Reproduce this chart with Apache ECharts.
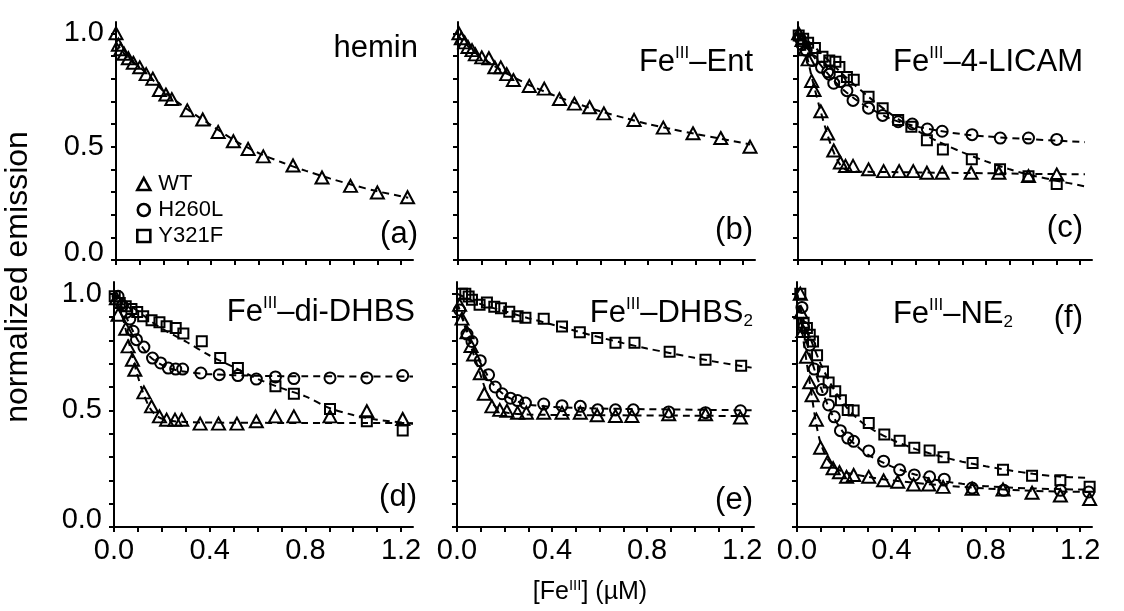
<!DOCTYPE html>
<html>
<head>
<meta charset="utf-8">
<script src="https://cdn.jsdelivr.net/npm/echarts@6/dist/echarts.min.js"></script>
<style>
    html, body { margin: 0; background: #fff; }
    #chart { width: 1124px; height: 611px; }
</style>
</head>
<body>
<div id="chart"></div>
<script>
// tick positions / labels
const xTicks = [0, 0.1, 0.2, 0.3, 0.4, 0.5, 0.6, 0.7, 0.8, 0.9, 1.0, 1.1, 1.2];
const xTickLabels = [0, 0.4, 0.8, 1.2];
const yTicks = [0, 0.1, 0.2, 0.3, 0.4, 0.5, 0.6, 0.7, 0.8, 0.9, 1.0];
const yTickLabels = [0, 0.5, 1.0];

// (a) hemin
const heminWT = [[0, 1.0], [0.01, 0.95], [0.02, 0.93], [0.034, 0.91], [0.052, 0.89], [0.073, 0.87], [0.10, 0.85], [0.127, 0.82], [0.155, 0.80], [0.183, 0.75], [0.21, 0.73], [0.235, 0.71], [0.30, 0.66], [0.365, 0.62], [0.43, 0.565], [0.494, 0.524], [0.556, 0.49], [0.62, 0.457], [0.745, 0.417], [0.867, 0.364], [0.987, 0.327], [1.10, 0.298], [1.227, 0.277]];
const heminWTFit = [[0, 0.96], [0.05, 0.89], [0.1, 0.85], [0.15, 0.80], [0.2, 0.745], [0.3, 0.665], [0.4, 0.595], [0.5, 0.527], [0.6, 0.472], [0.7, 0.43], [0.8, 0.393], [0.9, 0.36], [1.0, 0.33], [1.1, 0.303], [1.23, 0.275]];

// (b) Fe-Ent
const entWT = [[0.004, 1.0], [0.014, 0.978], [0.028, 0.96], [0.042, 0.94], [0.059, 0.926], [0.073, 0.907], [0.10, 0.894], [0.13, 0.89], [0.155, 0.85], [0.18, 0.85], [0.205, 0.82], [0.233, 0.794], [0.30, 0.768], [0.363, 0.756], [0.427, 0.71], [0.49, 0.69], [0.554, 0.674], [0.614, 0.647], [0.741, 0.618], [0.864, 0.584], [0.989, 0.559], [1.106, 0.538], [1.229, 0.50]];
const entWTFit = [[0, 0.99], [0.05, 0.935], [0.1, 0.893], [0.15, 0.858], [0.2, 0.826], [0.3, 0.772], [0.4, 0.728], [0.5, 0.69], [0.6, 0.656], [0.7, 0.627], [0.8, 0.6], [0.9, 0.577], [1.0, 0.556], [1.1, 0.536], [1.23, 0.51]];

// (c) Fe-4-LICAM
const licamWT = [[0.003, 1.0], [0.017, 0.97], [0.03, 0.93], [0.043, 0.885], [0.058, 0.79], [0.068, 0.75], [0.097, 0.656], [0.126, 0.558], [0.152, 0.483], [0.18, 0.43], [0.202, 0.415], [0.234, 0.415], [0.30, 0.40], [0.364, 0.392], [0.43, 0.392], [0.49, 0.392], [0.548, 0.385], [0.613, 0.385], [0.736, 0.385], [0.854, 0.385], [0.98, 0.37], [1.10, 0.377]];
const licamH260L = [[0.01, 0.976], [0.017, 0.95], [0.035, 0.925], [0.06, 0.88], [0.1, 0.85], [0.126, 0.83], [0.133, 0.82], [0.152, 0.78], [0.18, 0.787], [0.208, 0.747], [0.234, 0.704], [0.30, 0.67], [0.36, 0.638], [0.426, 0.61], [0.486, 0.6], [0.55, 0.578], [0.613, 0.568], [0.74, 0.553], [0.86, 0.538], [0.98, 0.538], [1.10, 0.532]];
const licamY321F = [[0.003, 0.99], [0.022, 0.976], [0.043, 0.958], [0.072, 0.935], [0.104, 0.897], [0.133, 0.88], [0.159, 0.875], [0.176, 0.852], [0.208, 0.807], [0.237, 0.795], [0.30, 0.72], [0.36, 0.67], [0.426, 0.618], [0.482, 0.588], [0.548, 0.528], [0.616, 0.487], [0.739, 0.445], [0.859, 0.40], [0.98, 0.37], [1.10, 0.335]];
const licamWTFit = [[0, 1.0], [0.03, 0.93], [0.06, 0.80], [0.09, 0.68], [0.12, 0.57], [0.15, 0.48], [0.18, 0.42], [0.21, 0.395], [0.25, 0.39], [0.4, 0.388], [0.6, 0.385], [0.8, 0.383], [1.0, 0.38], [1.22, 0.378]];
const licamH260LFit = [[0, 1.0], [0.05, 0.92], [0.1, 0.855], [0.15, 0.795], [0.2, 0.745], [0.25, 0.705], [0.3, 0.672], [0.4, 0.62], [0.5, 0.59], [0.6, 0.57], [0.7, 0.555], [0.8, 0.545], [1.0, 0.532], [1.22, 0.52]];
const licamY321FFit = [[0, 1.0], [0.05, 0.96], [0.1, 0.91], [0.15, 0.86], [0.2, 0.81], [0.3, 0.72], [0.4, 0.64], [0.5, 0.575], [0.6, 0.52], [0.7, 0.475], [0.8, 0.435], [0.9, 0.40], [1.0, 0.372], [1.1, 0.35], [1.22, 0.325]];

// (d) Fe-di-DHBS
const diDhbsWT = [[0.01, 0.98], [0.017, 0.91], [0.049, 0.85], [0.059, 0.774], [0.077, 0.717], [0.087, 0.674], [0.125, 0.577], [0.157, 0.517], [0.19, 0.474], [0.22, 0.46], [0.255, 0.46], [0.283, 0.46], [0.36, 0.443], [0.437, 0.443], [0.514, 0.443], [0.595, 0.453], [0.675, 0.474], [0.752, 0.474], [0.903, 0.474], [1.057, 0.496], [1.207, 0.463]];
const diDhbsH260L = [[0.017, 0.989], [0.035, 0.949], [0.052, 0.92], [0.066, 0.891], [0.08, 0.839], [0.094, 0.803], [0.125, 0.771], [0.161, 0.724], [0.195, 0.703], [0.227, 0.681], [0.258, 0.677], [0.287, 0.677], [0.363, 0.66], [0.44, 0.653], [0.518, 0.649], [0.595, 0.634], [0.675, 0.643], [0.752, 0.636], [0.903, 0.639], [1.057, 0.639], [1.207, 0.649]];
const diDhbsY321F = [[0.003, 0.989], [0.024, 0.96], [0.049, 0.946], [0.073, 0.934], [0.097, 0.921], [0.122, 0.903], [0.157, 0.886], [0.19, 0.877], [0.22, 0.86], [0.258, 0.853], [0.29, 0.829], [0.367, 0.796], [0.444, 0.724], [0.518, 0.681], [0.675, 0.603], [0.752, 0.571], [0.903, 0.506], [1.057, 0.453], [1.207, 0.414]];
const diDhbsWTFit = [[0, 1.0], [0.03, 0.92], [0.06, 0.80], [0.09, 0.68], [0.12, 0.58], [0.15, 0.51], [0.18, 0.475], [0.22, 0.458], [0.3, 0.45], [0.5, 0.447], [0.8, 0.446], [1.0, 0.446], [1.25, 0.445]];
const diDhbsH260LFit = [[0, 1.0], [0.03, 0.95], [0.06, 0.88], [0.1, 0.80], [0.15, 0.73], [0.2, 0.695], [0.25, 0.675], [0.3, 0.665], [0.4, 0.655], [0.6, 0.648], [0.8, 0.646], [1.25, 0.645]];
const diDhbsY321FFit = [[0, 1.0], [0.05, 0.96], [0.1, 0.925], [0.15, 0.885], [0.2, 0.85], [0.3, 0.795], [0.4, 0.735], [0.5, 0.685], [0.6, 0.635], [0.7, 0.595], [0.8, 0.56], [0.9, 0.51], [1.0, 0.48], [1.1, 0.46], [1.25, 0.443]];

// (e) Fe-DHBS2
const dhbs2WT = [[0.011, 0.952], [0.021, 0.893], [0.042, 0.835], [0.059, 0.776], [0.07, 0.739], [0.098, 0.659], [0.115, 0.571], [0.147, 0.517], [0.18, 0.502], [0.21, 0.498], [0.255, 0.49], [0.292, 0.49], [0.365, 0.49], [0.442, 0.49], [0.519, 0.49], [0.59, 0.479], [0.667, 0.476], [0.736, 0.476], [0.891, 0.483], [1.046, 0.483], [1.193, 0.469]];
const dhbs2H260L = [[0.011, 0.93], [0.042, 0.827], [0.063, 0.795], [0.098, 0.713], [0.133, 0.652], [0.161, 0.60], [0.19, 0.571], [0.225, 0.552], [0.255, 0.542], [0.288, 0.531], [0.365, 0.527], [0.442, 0.52], [0.519, 0.517], [0.592, 0.502], [0.667, 0.502], [0.742, 0.502], [0.891, 0.493], [1.046, 0.49], [1.193, 0.498]];
const dhbs2Y321F = [[0.021, 1.0], [0.035, 1.0], [0.049, 0.988], [0.063, 0.974], [0.095, 0.952], [0.126, 0.962], [0.157, 0.944], [0.185, 0.937], [0.22, 0.922], [0.255, 0.903], [0.288, 0.897], [0.365, 0.893], [0.442, 0.859], [0.517, 0.835], [0.59, 0.81], [0.667, 0.79], [0.747, 0.79], [0.895, 0.751], [1.046, 0.717], [1.196, 0.691]];
const dhbs2WTFit = [[0, 0.96], [0.03, 0.87], [0.06, 0.77], [0.09, 0.68], [0.12, 0.59], [0.15, 0.53], [0.18, 0.50], [0.22, 0.488], [0.3, 0.482], [0.6, 0.479], [1.0, 0.477], [1.24, 0.475]];
const dhbs2H260LFit = [[0, 0.96], [0.03, 0.88], [0.06, 0.79], [0.09, 0.72], [0.12, 0.665], [0.15, 0.615], [0.2, 0.565], [0.25, 0.54], [0.3, 0.525], [0.4, 0.515], [0.6, 0.508], [0.8, 0.505], [1.24, 0.50]];
const dhbs2Y321FFit = [[0, 1.0], [0.1, 0.955], [0.2, 0.925], [0.3, 0.895], [0.4, 0.868], [0.5, 0.84], [0.6, 0.813], [0.7, 0.788], [0.8, 0.765], [0.9, 0.745], [1.0, 0.725], [1.1, 0.706], [1.24, 0.683]];

// (f) Fe-NE2
const ne2WT = [[0.014, 1.0], [0.017, 0.92], [0.025, 0.84], [0.04, 0.73], [0.054, 0.62], [0.064, 0.565], [0.082, 0.46], [0.10, 0.34], [0.13, 0.28], [0.153, 0.252], [0.18, 0.235], [0.21, 0.215], [0.24, 0.223], [0.304, 0.215], [0.367, 0.20], [0.427, 0.194], [0.494, 0.182], [0.558, 0.182], [0.619, 0.172], [0.742, 0.164], [0.873, 0.161], [0.996, 0.147], [1.116, 0.135], [1.24, 0.12]];
const ne2H260L = [[0.021, 0.941], [0.028, 0.856], [0.054, 0.78], [0.073, 0.677], [0.106, 0.589], [0.134, 0.523], [0.158, 0.472], [0.184, 0.413], [0.215, 0.381], [0.24, 0.367], [0.304, 0.326], [0.367, 0.282], [0.435, 0.245], [0.497, 0.223], [0.562, 0.215], [0.624, 0.205], [0.742, 0.167], [0.876, 0.157], [1.116, 0.157], [1.236, 0.15]];
const ne2Y321F = [[0.014, 1.0], [0.028, 0.875], [0.042, 0.853], [0.054, 0.824], [0.068, 0.795], [0.085, 0.736], [0.11, 0.666], [0.134, 0.619], [0.162, 0.582], [0.186, 0.543], [0.215, 0.501], [0.24, 0.499], [0.304, 0.446], [0.37, 0.396], [0.435, 0.37], [0.497, 0.34], [0.562, 0.328], [0.621, 0.299], [0.744, 0.274], [0.873, 0.245], [0.996, 0.22], [1.116, 0.20], [1.24, 0.172]];
const ne2WTFit = [[0, 1.0], [0.03, 0.78], [0.06, 0.58], [0.08, 0.45], [0.1, 0.36], [0.13, 0.29], [0.16, 0.255], [0.2, 0.235], [0.3, 0.215], [0.4, 0.20], [0.6, 0.18], [0.8, 0.165], [1.0, 0.155], [1.24, 0.15]];
const ne2H260LFit = [[0, 1.0], [0.03, 0.84], [0.06, 0.72], [0.1, 0.60], [0.15, 0.48], [0.2, 0.40], [0.25, 0.35], [0.3, 0.31], [0.4, 0.26], [0.5, 0.225], [0.6, 0.20], [0.7, 0.185], [0.8, 0.175], [1.0, 0.165], [1.24, 0.16]];
const ne2Y321FFit = [[0, 1.0], [0.03, 0.88], [0.06, 0.80], [0.1, 0.70], [0.15, 0.60], [0.2, 0.525], [0.25, 0.47], [0.3, 0.43], [0.4, 0.375], [0.5, 0.335], [0.6, 0.305], [0.7, 0.28], [0.8, 0.26], [0.9, 0.243], [1.0, 0.228], [1.1, 0.217], [1.24, 0.21]];

const FONT = '"Liberation Sans", Arial, sans-serif';

const symbols = {
    WT: {symbol: 'triangle', symbolSize: [13, 12]},
    H260L: {symbol: 'circle', symbolSize: 11},
    Y321F: {symbol: 'rect', symbolSize: 10}
};

// one entry per panel: grid box, label texts, data sets
const panels = [
    {grid: {left: 116, top: 22, width: 297, height: 238}, name: '{t|hemin}', nameBox: {right: 706, top: 31}, tag: '(a)', tagBox: {right: 706, top: 219},
        sets: [['WT', heminWT, heminWTFit]]},
    {grid: {left: 458, top: 22, width: 297, height: 238}, name: '{t|Fe}{sup|III}{t|–Ent}', nameBox: {right: 371, top: 45}, tag: '(b)', tagBox: {right: 371, top: 215},
        sets: [['WT', entWT, entWTFit]]},
    {grid: {left: 798, top: 22, width: 294, height: 238}, name: '{t|Fe}{sup|III}{t|–4-LICAM}', nameBox: {right: 41, top: 45}, tag: '(c)', tagBox: {right: 41, top: 213},
        sets: [['WT', licamWT, licamWTFit], ['H260L', licamH260L, licamH260LFit], ['Y321F', licamY321F, licamY321FFit]]},
    {grid: {left: 114, top: 282, width: 299, height: 245}, name: '{t|Fe}{sup|III}{t|–di-DHBS}', nameBox: {right: 709, top: 295}, tag: '(d)', tagBox: {right: 707, top: 482},
        sets: [['WT', diDhbsWT, diDhbsWTFit], ['H260L', diDhbsH260L, diDhbsH260LFit], ['Y321F', diDhbsY321F, diDhbsY321FFit]]},
    {grid: {left: 457, top: 282, width: 297, height: 245}, name: '{t|Fe}{sup|III}{t|–DHBS}{sub|2}', nameBox: {right: 371, top: 296}, tag: '(e)', tagBox: {right: 371, top: 485},
        sets: [['WT', dhbs2WT, dhbs2WTFit], ['H260L', dhbs2H260L, dhbs2H260LFit], ['Y321F', dhbs2Y321F, dhbs2Y321FFit]]},
    {grid: {left: 797, top: 282, width: 295, height: 245}, name: '{t|Fe}{sup|III}{t|–NE}{sub|2}', nameBox: {right: 111, top: 297}, tag: '(f)', tagBox: {right: 41, top: 303},
        sets: [['WT', ne2WT, ne2WTFit], ['H260L', ne2H260L, ne2H260LFit], ['Y321F', ne2Y321F, ne2Y321FFit]]}
];

const richText = {
    t: {fontSize: 31, fontWeight: 'normal', fontFamily: FONT, color: '#000', lineHeight: 34},
    sup: {fontSize: 17, fontWeight: 'normal', fontFamily: FONT, color: '#000', lineHeight: 17, verticalAlign: 'top'},
    sub: {fontSize: 17, fontWeight: 'normal', fontFamily: FONT, color: '#000', lineHeight: 17, verticalAlign: 'bottom'}
};

const axisBlack = {color: '#000', width: 2};
const grids = [], xAxes = [], yAxes = [], titles = [], series = [];

panels.forEach((p, i) => {
    grids.push(p.grid);
    xAxes.push({
        gridIndex: i, type: 'value', min: 0, max: 1.25,
        axisLine: {show: true, onZero: false, lineStyle: axisBlack},
        axisTick: {show: true, customValues: xTicks, length: 5, lineStyle: axisBlack},
        axisLabel: {show: i >= 3, customValues: xTickLabels, formatter: v => v.toFixed(1), fontSize: 29, fontFamily: FONT, color: '#000', margin: 9},
        splitLine: {show: false}
    });
    yAxes.push({
        gridIndex: i, type: 'value', min: 0, max: 1.05,
        axisLine: {show: true, onZero: false, lineStyle: axisBlack},
        axisTick: {show: true, customValues: yTicks, length: 5, lineStyle: axisBlack},
        axisLabel: {
            show: i === 0 || i === 3, customValues: yTickLabels,
            formatter: v => v === 0 ? '{z|0.0}' : v.toFixed(1),
            fontSize: 29, fontFamily: FONT, color: '#000', margin: 12,
            rich: {z: {fontSize: 29, fontFamily: FONT, color: '#000', padding: [0, 0, 14, 0]}}
        },
        splitLine: {show: false}
    });
    titles.push({text: p.name, ...p.nameBox, padding: 0, textStyle: {fontWeight: 'normal', rich: richText}});
    titles.push({text: p.tag, ...p.tagBox, padding: 0, textStyle: {fontSize: 31, fontWeight: 'normal', fontFamily: FONT, color: '#000'}});

    p.sets.forEach(([name, points, fit]) => {
        series.push({
            name: name + ' fit', type: 'line', xAxisIndex: i, yAxisIndex: i,
            data: fit, smooth: 0.3, showSymbol: false, silent: true, z: 1,
            lineStyle: {color: '#000', width: 2, type: [7, 5]}
        });
        series.push({
            name: name, type: 'scatter', xAxisIndex: i, yAxisIndex: i,
            data: points, ...symbols[name], z: 3,
            itemStyle: {color: 'rgba(255,255,255,0)', borderColor: '#000', borderWidth: 2, opacity: 1}
        });
    });
});

const chart = echarts.init(document.getElementById('chart'), null, {renderer: 'canvas'});
chart.setOption({
    animation: false,
    backgroundColor: '#fff',
    title: titles,
    grid: grids,
    xAxis: xAxes,
    yAxis: yAxes,
    legend: {
        data: ['WT', 'H260L', 'Y321F'],
        orient: 'vertical', left: 131, top: 168,
        itemWidth: 13, itemHeight: 12, itemGap: 4,
        selectedMode: false,
        itemStyle: {borderWidth: 2.6, borderColor: '#000', opacity: 1},
        textStyle: {fontSize: 22, lineHeight: 22, fontFamily: FONT, color: '#000', padding: [0, 0, 0, 3]}
    },
    graphic: [
        {
            type: 'text', x: 18, y: 277, rotation: Math.PI / 2,
            style: {text: 'normalized emission', font: '32px ' + FONT, fill: '#000', align: 'center', verticalAlign: 'middle'}
        },
        {
            type: 'text', x: 590, y: 592,
            style: {
                text: '{n|[Fe}{s|III}{n|] (µM)}', align: 'center', verticalAlign: 'middle',
                rich: {
                    n: {fontSize: 25, fontFamily: FONT, fill: '#000', lineHeight: 28},
                    s: {fontSize: 15, fontFamily: FONT, fill: '#000', lineHeight: 15, verticalAlign: 'top'}
                }
            }
        }
    ],
    series: series
});
</script>
</body>
</html>
